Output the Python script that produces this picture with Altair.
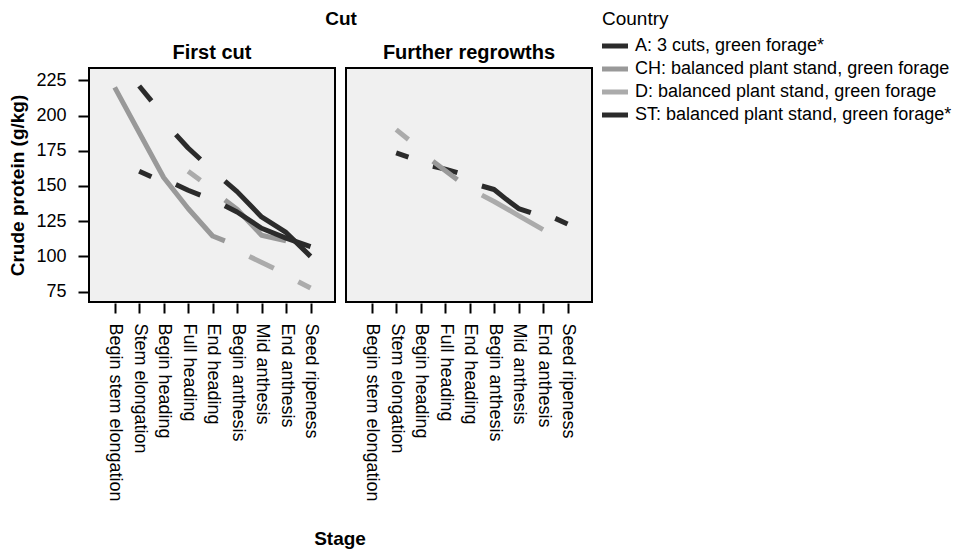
import json
import altair as alt
import pandas as pd

STAGES = ["Begin stem elongation", "Stem elongation", "Begin heading", "Full heading",
          "End heading", "Begin anthesis", "Mid anthesis", "End anthesis", "Seed ripeness"]
CUTS = ["First cut", "Further regrowths"]
COUNTRIES = ["A: 3 cuts, green forage*",
             "CH: balanced plant stand, green forage",
             "D: balanced plant stand, green forage",
             "ST: balanced plant stand, green forage*"]
COLORS = ["#2b2b2b", "#999999", "#ababab", "#2b2b2b"]
Y_TICKS = [75, 100, 125, 150, 175, 200, 225]

# visible line pieces: (stage position, crude protein g/kg); stage position 0 = first stage
FIRST_A = [[(1, 221), (1.5, 210.5)],
           [(2.5, 186.5), (3, 177), (3.5, 169)],
           [(4.5, 153.5), (5, 146), (6, 128), (7, 117), (8, 100)]]
FIRST_CH = [[(0, 220), (1, 188), (2, 156), (3, 134), (4, 114.5), (4.5, 111)],
            [(4.5, 140), (5, 133.5), (6, 115), (7, 111)]]
FIRST_D = [[(3, 160.5), (3.5, 154)],
           [(5.5, 100), (6.5, 91.5)],
           [(7.5, 82), (8, 77.5)]]
FIRST_ST = [[(1, 160.5), (1.5, 156.5)],
            [(2.5, 151), (3, 147), (3.5, 143.5)],
            [(4.5, 136), (5, 131.5), (6, 120), (7, 113), (8, 107)]]

REGROW_A = [[(1, 173.5), (1.5, 170.5)],
            [(2.5, 164), (3, 162), (3.5, 159.5)],
            [(4.5, 150), (5, 147.5), (5.5, 140.5), (6, 134), (6.5, 131)],
            [(7.5, 127), (8, 123)]]
REGROW_CH = [[(2.5, 167.5), (3, 161), (3.5, 154.5)]]
REGROW_D = [[(1, 190), (1.5, 183)],
            [(4.5, 143.5), (5, 139), (6, 129), (7, 119)]]
REGROW_ST = []

SERIES = [
    ("First cut", COUNTRIES[0], FIRST_A),
    ("First cut", COUNTRIES[1], FIRST_CH),
    ("First cut", COUNTRIES[2], FIRST_D),
    ("First cut", COUNTRIES[3], FIRST_ST),
    ("Further regrowths", COUNTRIES[0], REGROW_A),
    ("Further regrowths", COUNTRIES[1], REGROW_CH),
    ("Further regrowths", COUNTRIES[2], REGROW_D),
    ("Further regrowths", COUNTRIES[3], REGROW_ST),
]

rows = []
for cut, country, pieces in SERIES:
    for k, piece in enumerate(pieces):
        for pos, val in piece:
            rows.append({"Cut": cut, "Country": country,
                         "seg": f"{cut}|{country}|{k}", "pos": pos, "protein": val})
df = pd.DataFrame(rows)

FONT = "Liberation Sans"
label_expr = json.dumps(STAGES) + "[datum.value]"

base = alt.Chart(df).mark_line(strokeWidth=5, strokeCap="butt", strokeJoin="round").encode(
    x=alt.X("pos:Q", title=None,
            scale=alt.Scale(domain=[-1.05, 9], nice=False, zero=False),
            axis=alt.Axis(values=list(range(len(STAGES))), labelExpr=label_expr,
                          labelAngle=90, labelOverlap=False, labelFlush=False,
                          labelPadding=10)),
    y=alt.Y("protein:Q", title="Crude protein (g/kg)",
            scale=alt.Scale(domain=[67.6, 233.8], nice=False, zero=False),
            axis=alt.Axis(values=Y_TICKS, labelPadding=12, titlePadding=8)),
    color=alt.Color("Country:N", title="Country",
                    scale=alt.Scale(domain=COUNTRIES, range=COLORS),
                    legend=alt.Legend(orient="none", legendX=513, legendY=-58,
                                      padding=0,
                                      symbolType="M-1.24,0H1.24", symbolStrokeWidth=5,
                                      symbolSize=441, labelFontSize=18, titleFontSize=19,
                                      titleFontWeight="normal", labelOffset=7,
                                      rowPadding=0, titlePadding=4, labelLimit=400)),
    detail="seg:N",
    order="pos:Q",
).properties(width=246, height=234)

chart = base.facet(
    column=alt.Column("Cut:N", sort=CUTS,
                      header=alt.Header(title="Cut", titleFontSize=19, titleFontWeight="bold",
                                        titleColor="black", labelFontSize=20,
                                        labelFontWeight="bold", labelColor="black",
                                        titlePadding=4, labelPadding=4, titleFont=FONT,
                                        labelFont=FONT)),
    spacing=9,
).properties(
    padding={"top": 2, "left": 0, "right": 0, "bottom": 0},
    title=alt.TitleParams("Stage", orient="bottom", anchor="middle", frame="group",
                          fontSize=19, fontWeight="bold", font=FONT, color="black",
                          offset=29, dx=251)
).configure(font=FONT).configure_view(
    fill="#f0f0f0", stroke="#000000", strokeWidth=2
).configure_axis(
    domain=False, grid=False, tickColor="#000000", tickWidth=2, tickSize=10,
    labelFontSize=18, labelColor="#000000", titleFontSize=19, titleFontWeight="bold",
    titleColor="#000000", labelFont=FONT, titleFont=FONT
).configure_legend(
    titleColor="#000000", labelColor="#000000", labelFont=FONT, titleFont=FONT
)

chart.save("out.html", embed_options={"renderer": "svg", "actions": False})
